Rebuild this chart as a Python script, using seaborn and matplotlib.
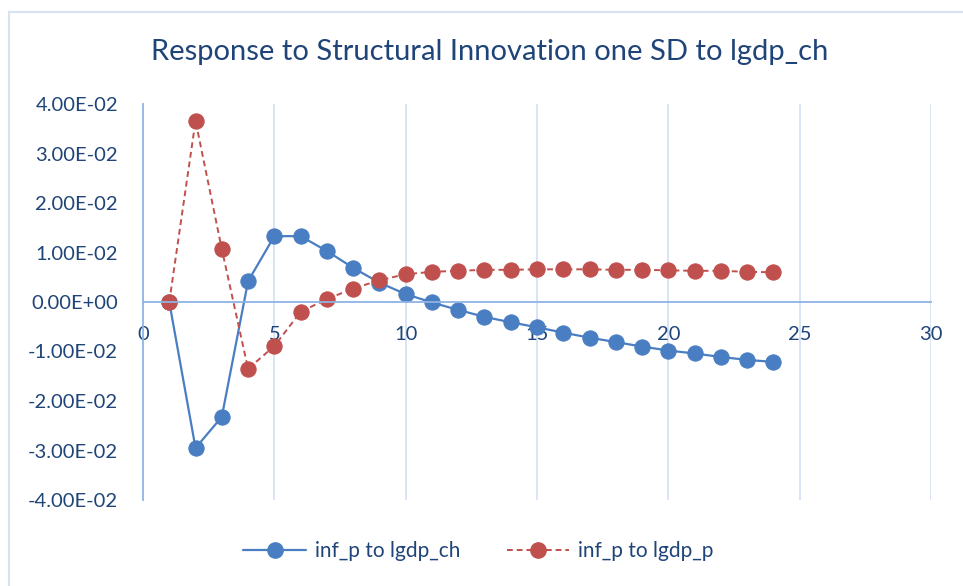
import numpy as np
import pandas as pd
import matplotlib
matplotlib.use("Agg")
import matplotlib.pyplot as plt
from matplotlib.lines import Line2D
import seaborn as sns

periods = list(range(1, 25))
inf_p_to_lgdp_ch = [0.0, -0.0295, -0.0232, 0.0042, 0.0133, 0.0133, 0.0103, 0.0069,
                    0.0039, 0.0016, -0.0001, -0.0016, -0.0030, -0.0041, -0.0051, -0.0062,
                    -0.0072, -0.0081, -0.0090, -0.0098, -0.0104, -0.0111, -0.0117, -0.0121]
inf_p_to_lgdp_p = [0.0, 0.0366, 0.0107, -0.0135, -0.0089, -0.0020, 0.0006, 0.0027,
                   0.0044, 0.0056, 0.0061, 0.0063, 0.0065, 0.0065, 0.0066, 0.0066,
                   0.0066, 0.0065, 0.0065, 0.0064, 0.0063, 0.0063, 0.0061, 0.0060]
series_names = ["inf_p to lgdp_ch", "inf_p to lgdp_p"]
title = "Response to Structural Innovation one SD to lgdp_ch"

df = pd.DataFrame({"period": periods,
                   series_names[0]: inf_p_to_lgdp_ch,
                   series_names[1]: inf_p_to_lgdp_p})

sns.set_style("white")
plt.rcParams["font.family"] = ["Lato", "DejaVu Sans"]

text_color = "#1F4478"
blue = "#4A7EC2"
red = "#C0504D"
grid_color = "#D6E3F5"
axis_color = "#8EB4E3"

fig = plt.figure(figsize=(9.63, 5.86), dpi=100)
ax = fig.add_axes([143 / 963, 1 - 500 / 586, (931 - 143) / 963, (500 - 104) / 586])

sns.lineplot(data=df, x="period", y=series_names[0], ax=ax, color=blue, linewidth=1.6,
             marker="o", markersize=11, markeredgecolor=blue, label=series_names[0])
sns.lineplot(data=df, x="period", y=series_names[1], ax=ax, color=red, linewidth=1.4,
             linestyle=(0, (3, 2)), marker="o", markersize=11, markeredgecolor=red,
             label=series_names[1])

ax.set_xlim(0, 30)
ax.set_ylim(-0.04, 0.04)
ax.set_xticks(np.arange(0, 31, 5))
yticks = np.arange(-0.04, 0.0401, 0.01)
ax.set_yticks(yticks)
ax.set_yticklabels([f"{v:.2E}" if abs(v) > 1e-9 else "0.00E+00" for v in yticks])
ax.set_xlabel("")
ax.set_ylabel("")

# vertical gridlines only
for xv in range(5, 31, 5):
    ax.axvline(xv, color=grid_color, linewidth=1.3, zorder=0)

for side in ["top", "right"]:
    ax.spines[side].set_visible(False)
ax.spines["bottom"].set_position(("data", 0))
ax.spines["bottom"].set_color(axis_color)
ax.spines["bottom"].set_linewidth(1.3)
ax.spines["left"].set_color(axis_color)
ax.spines["left"].set_linewidth(1.3)
ax.tick_params(axis="both", length=0, labelsize=14.5, colors=text_color)
ax.tick_params(axis="y", pad=18)
ax.tick_params(axis="x", pad=17)

if ax.legend_:
    ax.legend_.remove()
handles = [Line2D([], [], color=blue, linewidth=1.6, marker="o", markersize=11),
           Line2D([], [], color=red, linewidth=1.4, linestyle=(0, (3, 2)), marker="o", markersize=11)]
fig.legend(handles, series_names, loc="center", bbox_to_anchor=(0.497, 1 - 551 / 586),
           ncol=2, frameon=False, fontsize=15, labelcolor=text_color,
           handlelength=3.0, columnspacing=2.2, handletextpad=0.45)

fig.text(0.508, 1 - 52 / 586, title, ha="center", va="center", fontsize=21, color=text_color)

# chart area border (top and left edges visible)
fig.add_artist(Line2D([9 / 963, 9 / 963], [0, 1 - 12 / 586], transform=fig.transFigure,
                      color="#D9E2F3", linewidth=1.5))
fig.add_artist(Line2D([9 / 963, 1], [1 - 12 / 586, 1 - 12 / 586], transform=fig.transFigure,
                      color="#D9E2F3", linewidth=1.5))

fig.savefig("out.png", dpi=100)
